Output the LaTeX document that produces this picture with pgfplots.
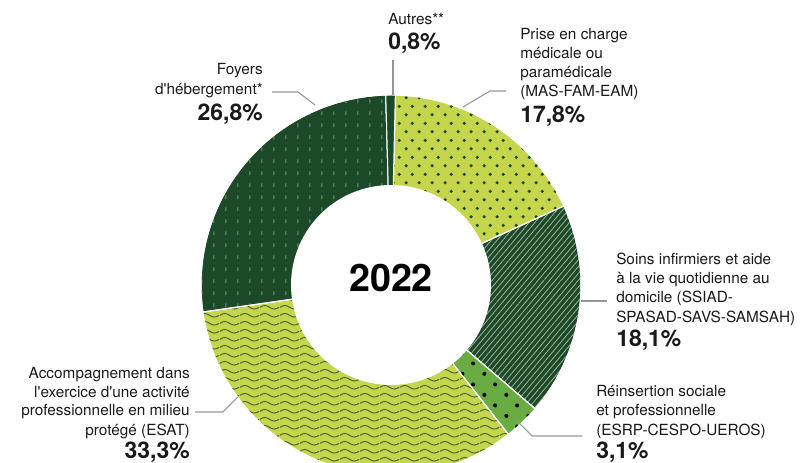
\documentclass[border=0pt]{standalone}
\usepackage{fontspec}
\setmainfont{TeX Gyre Heros}
\usepackage{pgfplots}
\pgfplotsset{compat=1.18}
\usepackage{pgfplotstable}
\usetikzlibrary{patterns,patterns.meta}

\definecolor{cDark}{RGB}{28,74,40}
\definecolor{cLight}{RGB}{197,214,76}
\definecolor{cMid}{RGB}{106,172,68}
\definecolor{cLead}{RGB}{150,150,150}
\definecolor{cTxt}{RGB}{25,25,25}
\definecolor{cWave}{RGB}{72,100,45}
\definecolor{cHatch}{RGB}{160,180,160}
\definecolor{cDash}{RGB}{120,150,120}

\tikzdeclarepattern{
  name=prisedots, type=uncolored,
  bounding box={(0,0) and (9.45pt,13.05pt)},
  tile size={(9.45pt,13.05pt)},
  code={\fill (2.3625pt,3.2625pt) circle (1.35pt);
        \fill (7.0875pt,9.7875pt) circle (1.35pt);}
}
\tikzdeclarepattern{
  name=reindots, type=uncolored,
  bounding box={(0,0) and (16.3pt,16pt)},
  tile size={(16.3pt,16pt)},
  code={\fill (4.075pt,4pt) circle (1.55pt);
        \fill (12.225pt,12pt) circle (1.55pt);}
}
\tikzdeclarepattern{
  name=waves, type=uncolored,
  bounding box={(0,0) and (15pt,5.775pt)},
  tile size={(15pt,5.775pt)},
  code={\draw[line width=0.75pt] (0,2.9pt) sin (3.75pt,4.3pt) cos (7.5pt,2.9pt) sin (11.25pt,1.5pt) cos (15pt,2.9pt);}
}
\tikzdeclarepattern{
  name=dashes, type=uncolored,
  bounding box={(0,0) and (9.2pt,8.8pt)},
  tile size={(9.2pt,8.8pt)},
  code={\fill (4.25pt,3pt) rectangle (5.0pt,5.8pt);}
}

% shares in percent, clockwise from the top
\pgfplotstableread{
idx share
0 17.8
1 18.1
2 3.1
3 33.3
4 26.8
5 0.8
}\sharetable

\pgfplotstablegetelem{0}{share}\of\sharetable\edef\vA{\pgfplotsretval}
\pgfplotstablegetelem{1}{share}\of\sharetable\edef\vB{\pgfplotsretval}
\pgfplotstablegetelem{2}{share}\of\sharetable\edef\vC{\pgfplotsretval}
\pgfplotstablegetelem{3}{share}\of\sharetable\edef\vD{\pgfplotsretval}
\pgfplotstablegetelem{4}{share}\of\sharetable\edef\vE{\pgfplotsretval}
\pgfplotstablegetelem{5}{share}\of\sharetable\edef\vF{\pgfplotsretval}
\pgfmathsetmacro\tot{\vA+\vB+\vC+\vD+\vE+\vF}
\pgfmathsetmacro\angscale{360/\tot}
\pgfmathsetmacro\aA{88.7}
\pgfmathsetmacro\aB{\aA-\vA*\angscale}
\pgfmathsetmacro\aC{\aB-\vB*\angscale}
\pgfmathsetmacro\aD{\aC-\vC*\angscale}
\pgfmathsetmacro\aE{\aD-\vD*\angscale}
\pgfmathsetmacro\aF{\aE-\vE*\angscale}
\pgfmathsetmacro\aG{\aF-\vF*\angscale}

\newcommand\slice[3]{%
  \addplot[#3, domain=#2:#1, samples=90, variable=\t]
    ({391+190*cos(\t)},{178+190*sin(\t)}) -- (axis cs:391,178) -- cycle;
}

\begin{document}
\begin{tikzpicture}[
  lbl/.style={font=\fontsize{11.5}{14}\selectfont, text=cTxt, inner sep=0pt},
  pct/.style={font=\fontsize{17.2}{20}\selectfont\bfseries, text=cTxt, inner sep=0pt},
  lead/.style={draw=cLead, line width=0.8pt}]
\begin{axis}[name=ax, at={(0,0)}, anchor=south west,
  width=603pt, height=347.25pt, scale only axis,
  xmin=0, xmax=804, ymin=0, ymax=463, hide axis, clip=true]

\slice{\aA}{\aB}{fill=cLight, draw=white, line width=0.75pt, postaction={pattern=prisedots, pattern color=cDark}}
\slice{\aB}{\aC}{fill=cDark, draw=white, line width=0.75pt, postaction={pattern={Lines[angle=50,distance=3.3pt,line width=0.6pt]}, pattern color=cHatch}}
\slice{\aC}{\aD}{fill=cMid, draw=white, line width=0.75pt, postaction={pattern=reindots, pattern color=black}}
\slice{\aD}{\aE}{fill=cLight, draw=white, line width=0.75pt, postaction={pattern=waves, pattern color=cWave}}
\slice{\aE}{\aF}{fill=cDark, draw=white, line width=0.75pt, postaction={pattern=dashes, pattern color=cDash}}
\slice{\aF}{\aG}{fill=cDark, draw=white, line width=0.75pt}

\addplot[fill=white, draw=none, domain=0:360, samples=120, variable=\t]
  ({391+100*cos(\t)},{178+100*sin(\t)}) -- cycle;

\node[anchor=base, inner sep=0pt, text=black, font=\fontsize{28.3}{30}\selectfont\bfseries] at (axis cs:391,171) {2022};

% leader lines
\draw[lead] (axis cs:393,403) -- (axis cs:393,368);
\draw[lead] (axis cs:506,372) -- (axis cs:490,372) -- (axis cs:463,356);
\draw[lead] (axis cs:272,371) -- (axis cs:298,371) -- (axis cs:315,358);
\draw[lead] (axis cs:581,162) -- (axis cs:607,162);
\draw[lead] (axis cs:582,27) -- (axis cs:532,27) -- (axis cs:517,42);
\draw[lead] (axis cs:195,51) -- (axis cs:223,51) -- (axis cs:238,66);

% Autres
\node[lbl, anchor=base west] at (axis cs:388,438) {Autres**};
\node[pct, anchor=base west] at (axis cs:388,413) {0,8\%};
% Prise en charge
\node[lbl, anchor=base west] at (axis cs:520,423) {Prise en charge};
\node[lbl, anchor=base west] at (axis cs:520,404) {médicale ou};
\node[lbl, anchor=base west] at (axis cs:520,385) {paramédicale};
\node[lbl, anchor=base west] at (axis cs:520,366) {(MAS-FAM-EAM)};
\node[pct, anchor=base west] at (axis cs:520,340) {17,8\%};
% Foyers
\node[lbl, anchor=base east] at (axis cs:263,388) {Foyers};
\node[lbl, anchor=base east] at (axis cs:263,368.5) {d\textquotesingle hébergement*};
\node[pct, anchor=base east] at (axis cs:263,342) {26,8\%};
% Soins
\node[lbl, anchor=base west] at (axis cs:616,198) {Soins infirmiers et aide};
\node[lbl, anchor=base west] at (axis cs:616,179) {à la vie quotidienne au};
\node[lbl, anchor=base west] at (axis cs:616,160) {domicile (SSIAD-};
\node[lbl, anchor=base west] at (axis cs:616,140.5) {SPASAD-SAVS-SAMSAH)};
\node[pct, anchor=base west] at (axis cs:616,116) {18,1\%};
% Reinsertion
\node[lbl, anchor=base west] at (axis cs:596,66) {Réinsertion sociale};
\node[lbl, anchor=base west] at (axis cs:596,47) {et professionnelle};
\node[lbl, anchor=base west] at (axis cs:596,27.5) {(ESRP-CESPO-UEROS)};
\node[pct, anchor=base west] at (axis cs:596,4.5) {3,1\%};
% ESAT
\node[lbl, anchor=base east] at (axis cs:190,84) {Accompagnement dans};
\node[lbl, anchor=base east] at (axis cs:190,65.5) {l\textquotesingle exercice d\textquotesingle une activité};
\node[lbl, anchor=base east] at (axis cs:190,47) {professionnelle en milieu};
\node[lbl, anchor=base east] at (axis cs:190,27.5) {protégé (ESAT)};
\node[pct, anchor=base east] at (axis cs:190,4.5) {33,3\%};
\end{axis}
\pgfresetboundingbox
\useasboundingbox (ax.south west) rectangle (ax.north east);
\end{tikzpicture}
\end{document}
